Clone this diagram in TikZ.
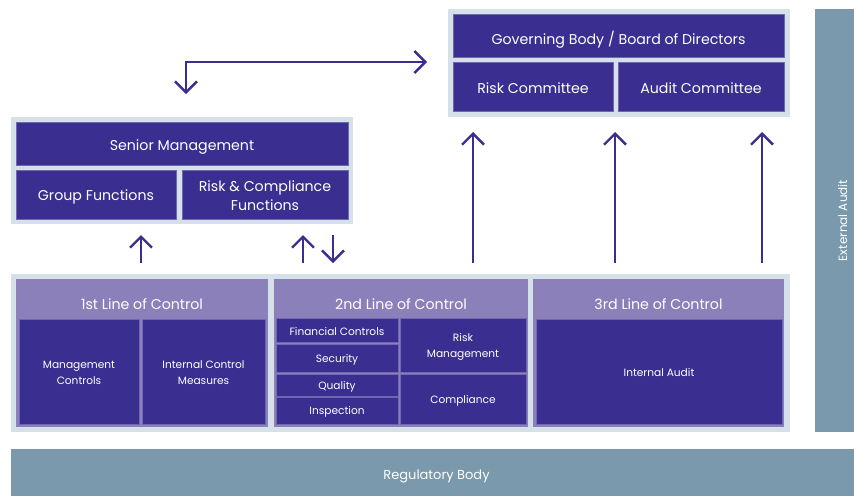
\documentclass[tikz,border=0pt]{standalone}
\usepackage{fontspec}
\setmainfont{Poppins}
\usetikzlibrary{arrows.meta}
\definecolor{deep}{RGB}{58,46,144}
\definecolor{edge}{RGB}{112,102,178}
\definecolor{head}{RGB}{139,128,186}
\definecolor{frame}{RGB}{214,224,233}
\definecolor{slate}{RGB}{122,153,173}
\tikzset{
  framebox/.style={fill=frame, draw=none},
  panel/.style={fill=head, draw=none},
  dbox/.style={rectangle, fill=deep, draw=edge, line width=0.8pt, inner sep=0pt},
  lbl/.style={text=white, align=center, inner sep=0pt},
  big/.style={font=\fontsize{14.2}{19}\selectfont},
  small/.style={font=\fontsize{10.6}{16}\selectfont},
  bar/.style={rectangle, fill=slate, draw=none, inner sep=0pt},
  conn/.style={draw=deep, line width=2.4pt,
    arrows={-Straight Barb[length=11pt,width=22pt]}},
  conn2/.style={draw=deep, line width=2.4pt,
    arrows={Straight Barb[length=11pt,width=22pt]-Straight Barb[length=11pt,width=22pt]}},
}
% dark cell by its corners, with its label set slightly below centre:
% \darkcell{name}{x1}{y1}{x2}{y2}{drop}{style}{text}
\newcommand{\darkcell}[8]{%
  \node[dbox,minimum width={(#4-#2)*1pt},minimum height={(#5-#3)*1pt}]
    (#1) at ({(#2+#4)/2},{(#3+#5)/2}) {};
  \node[lbl,#7] (#1-t) at ([yshift=-#6pt]#1.center) {#8};}
\begin{document}
\begin{tikzpicture}[x=1pt,y=-1pt]
\useasboundingbox (0,0) rectangle (854,496);
\fill[white] (0,0) rectangle (854,496);

% governing body block
\fill[framebox] (448,9) rectangle (790,117);
\darkcell{gov}{453}{14}{784}{57}{4}{big}{Governing Body / Board of Directors}
\darkcell{riskc}{453}{62}{613}{111}{2}{big}{Risk Committee}
\darkcell{auditc}{618}{62}{784}{111}{2}{big}{Audit Committee}

% senior management block
\fill[framebox] (11,117) rectangle (353,224);
\darkcell{senior}{16}{122}{348}{165}{3.5}{big}{Senior Management}
\darkcell{group}{16}{170}{176}{219}{2}{big}{Group Functions}
\darkcell{riskcomp}{182}{170}{348}{219}{1.5}{big}{Risk \& Compliance\\Functions}

% external audit and regulator bars
\node[bar,minimum width=39pt,minimum height=423pt] (ext) at (834.5,220.5) {};
\node[lbl,rotate=90,font=\fontsize{12}{14}\selectfont] (extlbl)
  at ([xshift=8pt]ext.center) {External Audit};
\node[bar,minimum width=843pt,minimum height=47pt] (reg) at (432.5,472.5) {};
\node[lbl,font=\fontsize{13}{15}\selectfont] (reglbl)
  at ([xshift=4pt,yshift=-3.5pt]reg.center) {Regulatory Body};

% lines of control
\fill[framebox] (11,274) rectangle (790,432);
\fill[panel] (16,279) rectangle (268,427);
\fill[panel] (274,279) rectangle (528,427);
\fill[panel] (533,279) rectangle (784,427);
\node[lbl,big] (l1) at (142,304) {1st Line of Control};
\node[lbl,big] (l2) at (401,304) {2nd Line of Control};
\node[lbl,big] (l3) at (658.5,304) {3rd Line of Control};

\darkcell{mgmt}{19}{319}{139}{424}{1.5}{small}{Management\\Controls}
\darkcell{icm}{142}{319}{265}{424}{1.5}{small}{Internal Control\\Measures}

\darkcell{fin}{276}{318}{398}{342}{2}{small}{Financial Controls}
\darkcell{sec}{276}{344}{398}{372}{1.5}{small}{Security}
\darkcell{qual}{276}{374}{398}{396}{1.5}{small}{Quality}
\darkcell{insp}{276}{397}{398}{424}{1.5}{small}{Inspection}
\darkcell{riskm}{400}{318}{526}{372}{1.5}{small}{Risk\\Management}
\darkcell{compl}{400}{374}{526}{424}{2}{small}{Compliance}

\darkcell{ia}{536}{319}{782}{424}{1.5}{small}{Internal Audit}

% connector end points
\coordinate (smtop) at (186,94);
\coordinate (govleft) at (427,62);
\coordinate (g1a) at (141,263);  \coordinate (g1b) at (141,235);
\coordinate (r1a) at (303,263);  \coordinate (r1b) at (303,235);
\coordinate (r2a) at (333,235);  \coordinate (r2b) at (333,263);
\coordinate (u1a) at (473,263);  \coordinate (u1b) at (473,132);
\coordinate (u2a) at (615,263);  \coordinate (u2b) at (615,132);
\coordinate (u3a) at (762,263);  \coordinate (u3b) at (762,132);

\draw[conn2] (smtop) |- (govleft);
\draw[conn] (g1a) -- (g1b);
\draw[conn] (r1a) -- (r1b);
\draw[conn] (r2a) -- (r2b);
\draw[conn] (u1a) -- (u1b);
\draw[conn] (u2a) -- (u2b);
\draw[conn] (u3a) -- (u3b);
\end{tikzpicture}
\end{document}
